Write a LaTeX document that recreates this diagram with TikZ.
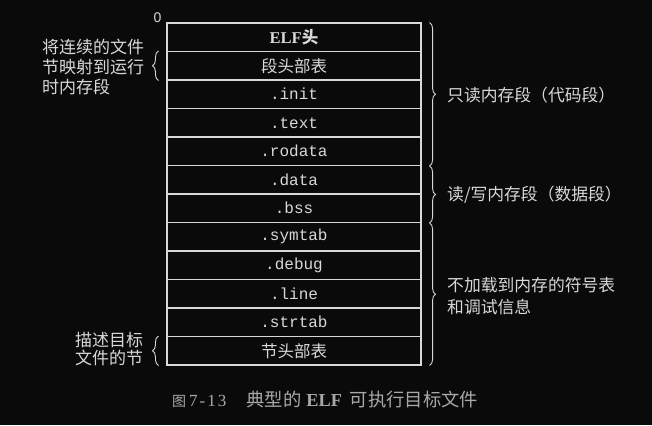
\documentclass[tikz,border=0pt]{standalone}
\usepackage{fontspec}
\setmainfont{Liberation Serif}
\setsansfont{Liberation Sans}
\setmonofont{Liberation Mono}
\newfontfamily\cjk{Noto Sans CJK SC}
\usetikzlibrary{decorations.pathreplacing}
\definecolor{bg}{HTML}{0A0A0A}
\definecolor{fg}{HTML}{D8D8D8}
\definecolor{cap}{HTML}{A8A8A8}
\begin{document}
\begin{tikzpicture}[x=1pt,y=-1pt,
  row/.style={draw=fg,line width=1.1pt,minimum width=254pt,minimum height=28.5pt,inner sep=0pt,text=fg,font=\fontsize{16.5}{18}\selectfont},
  sec/.style={row,font=\ttfamily\fontsize{16}{18}\selectfont},
  lbl/.style={text=fg,font=\cjk\fontsize{16.8}{20}\selectfont,align=left,inner sep=0pt},
  br/.style={draw=fg,line width=0.9pt,decorate,decoration={brace,amplitude=6pt}}]
\fill[bg] (0,0) rectangle (652,425);
\useasboundingbox (0,0) rectangle (652,425);
\node[row] (r1) at (294,37.25) {\bfseries ELF{\cjk 头}};
\node[row] (r2) at (294,65.75) {\cjk 段头部表};
\node[sec] (r3) at (294,94.25) {.init};
\node[sec] (r4) at (294,122.75) {.text};
\node[sec] (r5) at (294,151.25) {.rodata};
\node[sec] (r6) at (294,179.75) {.data};
\node[sec] (r7) at (294,208.25) {.bss};
\node[sec] (r8) at (294,236.75) {.symtab};
\node[sec] (r9) at (294,265.25) {.debug};
\node[sec] (r10) at (294,293.75) {.line};
\node[sec] (r11) at (294,322.25) {.strtab};
\node[row] (r12) at (294,350.75) {\cjk 节头部表};
\node[text=fg,font=\sffamily\fontsize{14}{15}\selectfont,inner sep=0pt] (zero) at (157.5,17.5) {0};
% right braces
\draw[br] ([xshift=8pt]r1.north east) -- ([xshift=8pt]r5.south east);
\draw[br] ([xshift=8pt,yshift=-1pt]r6.north east) -- ([xshift=8pt]r7.south east);
\draw[br] ([xshift=8pt,yshift=-1pt]r8.north east) -- ([xshift=8pt]r12.south east);
\node[lbl,anchor=west] (t1) at (447,95) {只读内存段（代码段）};
\node[lbl,anchor=west] (t2) at (447,195) {读/写内存段（数据段）};
\node[lbl,anchor=west,font=\cjk\fontsize{16.8}{22}\selectfont] (t3) at (447,296) {不加载到内存的符号表\\和调试信息};
% left braces
\draw[br] ([xshift=-8pt]r2.south west) -- ([xshift=-8pt]r2.north west);
\draw[br] ([xshift=-8pt]r12.south west) -- ([xshift=-8pt]r12.north west);
\node[lbl,anchor=west,font=\cjk\fontsize{17}{20}\selectfont] (t4) at (42,67) {将连续的文件\\节映射到运行\\时内存段};
\node[lbl,anchor=west,font=\cjk\fontsize{17}{18}\selectfont] (t5) at (75,349) {描述目标\\文件的节};
% caption
\node[text=cap,font=\fontsize{18.3}{20}\selectfont,anchor=west,inner sep=0pt] (capn) at (172,400) {{\cjk\fontsize{14}{16}\selectfont 图}\hspace{3pt}{\addfontfeature{LetterSpace=12}\fontsize{17}{19}\selectfont 7-13}\hspace{20pt}{\cjk 典型的}\hspace{5pt}\textbf{ELF}\hspace{8pt}{\cjk 可执行目标文件}};
\end{tikzpicture}
\end{document}
